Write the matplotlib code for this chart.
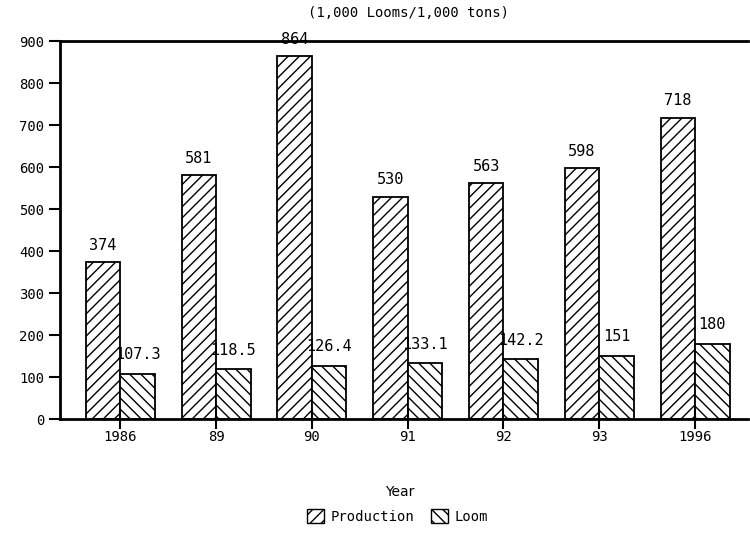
import matplotlib.pyplot as plt
import numpy as np
from matplotlib.patches import Patch

years = ['1986', '89', '90', '91', '92', '93', '1996']
production = [374, 581, 864, 530, 563, 598, 718]
loom = [107.3, 118.5, 126.4, 133.1, 142.2, 151, 180]
prod_labels = ['374', '581', '864', '530', '563', '598', '718']
loom_labels = ['107.3', '118.5', '126.4', '133.1', '142.2', '151', '180']

plt.rcParams['font.family'] = ['DejaVu Sans Mono']
plt.rcParams['hatch.linewidth'] = 1.0

fig = plt.figure(figsize=(7.5, 5.36), dpi=100)
ax = fig.add_axes([0.08, 0.218, 0.917, 0.705])

x = np.arange(len(years))
width = 0.36

b1 = ax.bar(x - width / 2, production, width, color='white', edgecolor='black',
            hatch='///', linewidth=1.3, label='Production')
b2 = ax.bar(x + width / 2, loom, width, color='white', edgecolor='black',
            hatch='\\\\\\', linewidth=1.3, label='Loom')

for xi, v, t in zip(x, production, prod_labels):
    ax.text(xi - width / 2, v + 22, t, ha='center', va='bottom', fontsize=11)
for xi, v, t in zip(x, loom, loom_labels):
    ax.text(xi + width / 2, v + 28, t, ha='center', va='bottom', fontsize=11)

ax.set_xlim(-0.63, 6.55)
ax.set_ylim(0, 900)
ax.set_yticks(range(0, 901, 100))
ax.set_xticks(x)
ax.set_xticklabels(years, fontsize=10)
ax.tick_params(axis='y', labelsize=10, direction='out', length=8, width=1.5)
ax.tick_params(axis='x', direction='inout', length=14, width=1.5, pad=1)

ax.spines['right'].set_visible(False)
for s in ['left', 'bottom', 'top']:
    ax.spines[s].set_linewidth(2)

fig.text(0.545, 0.975, '(1,000 Looms/1,000 tons)', ha='center', va='center', fontsize=10)
fig.text(0.533, 0.082, 'Year', ha='center', va='center', fontsize=10, family='DejaVu Sans')

handles = [Patch(facecolor='white', edgecolor='black', hatch='///', label='Production'),
           Patch(facecolor='white', edgecolor='black', hatch='\\\\\\', label='Loom')]
fig.legend(handles=handles, loc='center', bbox_to_anchor=(0.53, 0.037), ncol=2,
           frameon=False, fontsize=10, handlelength=1.2, handleheight=1.2,
           columnspacing=1.2, handletextpad=0.5)

plt.savefig('out.png')
